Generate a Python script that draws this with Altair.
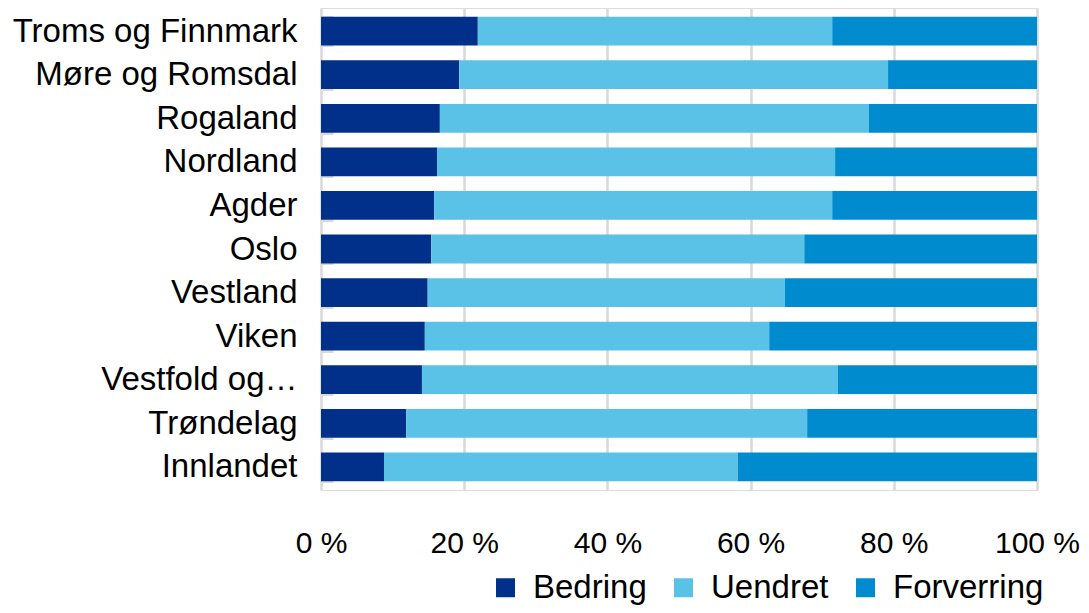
import altair as alt
import pandas as pd

categories = ["Troms og Finnmark", "Møre og Romsdal", "Rogaland", "Nordland", "Agder",
              "Oslo", "Vestland", "Viken", "Vestfold og…", "Trøndelag", "Innlandet"]
bedring = [21.9, 19.3, 16.6, 16.2, 15.8, 15.4, 14.9, 14.5, 14.1, 11.9, 8.8]
uendret = [49.5, 59.9, 59.9, 55.6, 55.6, 52.1, 49.9, 48.1, 58.1, 56.0, 49.4]
forverring = [28.6, 20.8, 23.5, 28.2, 28.6, 32.5, 35.2, 37.4, 27.8, 32.1, 41.8]

series = ["Bedring", "Uendret", "Forverring"]
colors = ["#00308A", "#5BC2E7", "#008BCE"]

rows = []
for i, c in enumerate(categories):
    for k, (name, vals) in enumerate(zip(series, [bedring, uendret, forverring])):
        rows.append({"Fylke": c, "Serie": name, "Verdi": vals[i], "rekkefolge": k})
df = pd.DataFrame(rows)

FONT = "Liberation Sans"

chart = alt.Chart(df).mark_bar().encode(
    y=alt.Y("Fylke:N", sort=categories, title=None,
            scale=alt.Scale(paddingInner=0.34, paddingOuter=0.2),
            axis=alt.Axis(orient="left", offset=-12, tickSize=12, tickBand="extent",
                          tickColor="#d9d9d9", tickWidth=3, domain=False,
                          labelPadding=24, labelFontSize=33, labelFont=FONT,
                          labelColor="#000000", labelLimit=400)),
    x=alt.X("Verdi:Q", stack="normalize", title=None,
            scale=alt.Scale(domain=[0, 1], nice=False),
            axis=alt.Axis(values=[0, 0.2, 0.4, 0.6, 0.8, 1.0],
                          labelExpr="format(datum.value*100, 'd') + ' %'",
                          grid=True, gridColor="#d9d9d9", gridWidth=2.5,
                          ticks=False, domain=False, labelPadding=38,
                          labelFontSize=30, labelFont=FONT, labelColor="#000000",
                          labelBaseline="top", labelFlush=False)),
    color=alt.Color("Serie:N", sort=series,
                    scale=alt.Scale(domain=series, range=colors),
                    legend=alt.Legend(title=None, orient="none", legendX=168, legendY=563,
                                      direction="horizontal", symbolType="square",
                                      symbolSize=361, symbolStrokeWidth=0,
                                      labelFontSize=33, labelFont=FONT, labelColor="#000000",
                                      labelOffset=11, columnPadding=20, padding=0,
                                      labelLimit=300)),
    order=alt.Order("rekkefolge:Q", sort="ascending"),
).properties(
    width=716, height=482,
    autosize=alt.AutoSizeParams(type="none"),
    padding={"left": 313, "right": 44, "top": 0, "bottom": 115},
).configure_view(
    stroke="#d9d9d9", strokeWidth=2.5
).configure(background="white")

chart.save("out.html", embed_options={"renderer": "svg", "actions": False})
